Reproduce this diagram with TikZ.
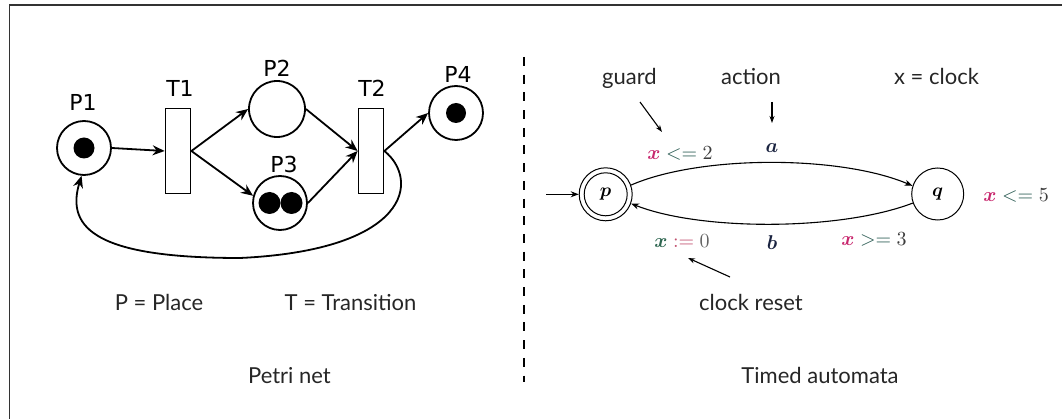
\documentclass[tikz,border=0pt]{standalone}
\usepackage{amsmath,bm}
\usepackage{fontspec}
\newfontfamily\lato{Lato}
\newfontfamily\dejavu{DejaVu Sans}
\usetikzlibrary{arrows.meta}
\definecolor{mag}{HTML}{C8286E}
\definecolor{tl}{HTML}{2D5D55}
\definecolor{dg}{HTML}{3C3C3C}
\definecolor{gx}{HTML}{2E6650}
\definecolor{rd}{HTML}{C0506E}
\definecolor{nv}{HTML}{1A2340}
\definecolor{frame}{HTML}{333333}
\tikzset{
  place/.style={circle,draw,line width=1.8pt,minimum size=54pt,inner sep=0pt},
  token/.style={circle,fill,inner sep=0pt,minimum size=21pt},
  trans/.style={rectangle,draw,line width=1.8pt,minimum width=25pt,minimum height=85pt,inner sep=0pt},
  parrow/.style={-{Stealth[length=12pt,width=10pt]},line width=1.8pt},
  plabel/.style={font=\dejavu\fontsize{22}{26}\selectfont,anchor=base,inner sep=0pt},
  txt/.style={font=\lato\fontsize{22}{26}\selectfont,anchor=base,inner sep=0pt,text=black!85},
  state/.style={circle,draw,line width=1pt,minimum size=52pt,inner sep=0pt},
  tarrow/.style={-{Stealth[length=8pt,width=6pt]},line width=1.1pt},
  ann/.style={-{Stealth[length=7pt,width=5pt]},line width=1.1pt},
  mlabel/.style={inner sep=0pt,scale=2},
  slabel/.style={inner sep=0pt,scale=1.9},
}
\begin{document}
\begin{tikzpicture}[x=1pt,y=-1pt]
\useasboundingbox (0,0) rectangle (1062,419);
% frame (top and left)
\draw[frame,line width=1.6pt] (9.5,419) -- (9.5,5) -- (1062,5);
% divider
\draw[line width=2.5pt,dash pattern=on 9pt off 8.7pt] (524,57) -- (524,382);

% ---------------- Petri net ----------------
\node[place] (P1) at (84,148) {};
\node[token] (t1) at (84,148) {};
\node[trans] (T1) at (178,151) {};
\node[place,minimum size=56pt] (P2) at (277,109) {};
\node[place] (P3) at (280,203) {};
\node[token,minimum size=22pt] (t3a) at (269.5,203) {};
\node[token,minimum size=22pt] (t3b) at (291.5,203) {};
\node[trans] (T2) at (371,151) {};
\node[place] (P4) at (456,113) {};
\node[token,minimum size=20pt] (t4) at (456,113) {};

\node[plabel] (lP1) at (83,111) {P1};
\node[plabel] (lT1) at (180,97) {T1};
\node[plabel] (lP2) at (277,77) {P2};
\node[plabel] (lP3) at (284,173) {P3};
\node[plabel] (lT2) at (372,97) {T2};
\node[plabel] (lP4) at (458,83) {P4};

\draw[parrow] (P1.east) -- (T1.west);
\draw[parrow] (T1.east) -- (P2.west);
\draw[parrow] (T1.east) -- (P3.165);
\draw[parrow] (P2.east) -- (T2.west);
\draw[parrow] (P3.east) -- (T2.west);
\draw[parrow] (T2.east) -- (P4.west);
\draw[parrow] (T2.east) .. controls (420,180) and (410,250) .. (240,258)
   .. controls (100,258) and (65,230) .. (P1.265);

\node[txt] (lPlace) at (159,311) {P = Place};
\node[txt] (lTrans) at (350.5,311) {T = Transition};
\node[txt] (lPetri) at (289.5,383) {Petri net};

% ---------------- Timed automata ----------------
\node[state,minimum size=53pt] (p) at (605.7,194.3) {};
\node[state,minimum size=43pt] (pin) at (605.7,194.3) {};
\node[slabel] (pl) at (605.7,194.3) {$\bm{p}$};
\node[state] (q) at (937.7,194) {};
\node[slabel] (ql) at (937.7,194) {$\bm{q}$};
\coordinate (start) at (546,194.3);
\draw[tarrow] (start) -- (p.west);
\draw[tarrow] (p.20) .. controls (700,155) and (840,155) .. (q.162);
\draw[tarrow] (q.200) .. controls (840,231) and (700,231) .. (p.-20);

\node[mlabel,text=nv] (la) at (772,148) {$\bm{a}$};
\node[mlabel,text=nv] (lb) at (772,243) {$\bm{b}$};
\node[mlabel] (g1) at (680,153) {$\textcolor{mag}{\bm{x}}\mathrel{\textcolor{tl}{<=}}\textcolor{dg}{2}$};
\node[mlabel,anchor=west] (g2) at (983,195) {$\textcolor{mag}{\bm{x}}\mathrel{\textcolor{tl}{<=}}\textcolor{dg}{5}$};
\node[mlabel] (g3) at (874,239) {$\textcolor{mag}{\bm{x}}\mathrel{\textcolor{tl}{>=}}\textcolor{dg}{3}$};
\node[mlabel] (r1) at (682,241) {$\textcolor{gx}{\bm{x}}\mathrel{\textcolor{rd}{:=}}\textcolor{dg!80}{0}$};

\node[txt] (lguard) at (629.5,85) {guard};
\node[txt] (laction) at (751,85) {action};
\node[txt] (lclock) at (936.5,85) {x = clock};
\node[txt] (lreset) at (751,311) {clock reset};
\node[txt] (lTimed) at (820,383) {Timed automata};

\coordinate (ga) at (640,102);
\coordinate (gb) at (662,132);
\coordinate (aa) at (772,102);
\coordinate (ab) at (772,123);
\coordinate (ra) at (730,277);
\coordinate (rb) at (688,258);
\draw[ann] (ga) -- (gb);
\draw[ann] (aa) -- (ab);
\draw[ann] (ra) -- (rb);
\end{tikzpicture}
\end{document}
